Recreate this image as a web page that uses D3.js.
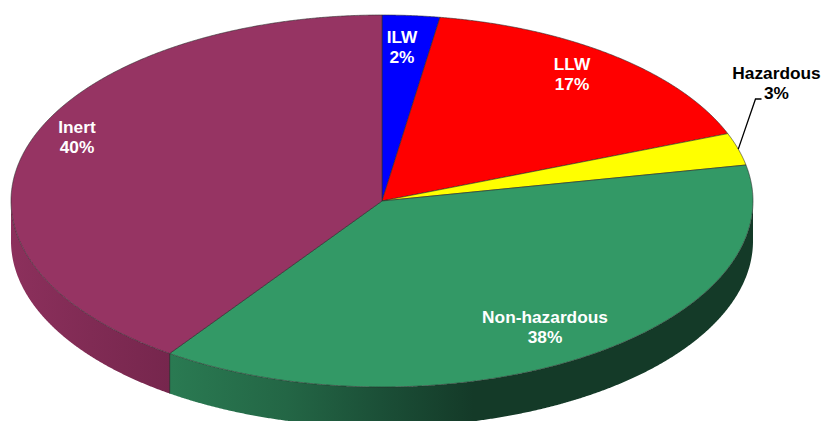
<!DOCTYPE html>
<html>

<head>
	<title>Waste pie</title>
	<meta charset="utf-8">
	<script src="https://cdn.jsdelivr.net/npm/d3@7"></script>
</head>

<style>
	html, body {
		margin: 0;
		padding: 0;
		background: #fff;
		overflow: hidden;
	}
	svg {
		display: block;
	}
	text {
		font-family: "Liberation Sans", Arial, sans-serif;
		font-size: 17.3px;
		font-weight: bold;
		text-anchor: middle;
	}
</style>

<body>
	<svg width="823" height="421"></svg>

	<script>
		var categories = ['ILW', 'LLW', 'Hazardous', 'Non-hazardous', 'Inert'];
		var shares = [2.5, 16.6, 2.8, 37.8, 40.3];
		var shareLabels = ['2%', '17%', '3%', '38%', '40%'];
		var colors = ['#0000ff', '#ff0000', '#ffff00', '#339966', '#963463'];
		var textColors = ['#fff', '#fff', '#000', '#fff', '#fff'];

		// where the two text lines sit, centre x and first baseline
		var labelX = [402, 572, 776.5, 545, 77];
		var labelY = [43, 70, 79, 323, 133];

		var depth = 40;
		var svg = d3.select('svg');

		// unit circle -> tilted ellipse
		var x = d3.scaleLinear().domain([-1, 1]).range([11, 753]);
		var y = d3.scaleLinear().domain([-1, 1]).range([15, 387]);

		var pie = d3.pie().sort(null).value(function(d) {
			return d;
		});
		var slices = pie(shares);

		function rim(a0, a1) {
			var n = Math.max(2, Math.ceil((a1 - a0) / 0.004));
			return d3.range(n + 1).map(function(i) {
				var a = a0 + (a1 - a0) * i / n;
				return [x(Math.sin(a)), y(-Math.cos(a))];
			});
		}

		var line = d3.line();
		var defs = svg.append('defs');

		function gradient(id, x1, x2, stops) {
			var g = defs.append('linearGradient')
				.attr('id', id)
				.attr('gradientUnits', 'userSpaceOnUse')
				.attr('x1', x1).attr('x2', x2)
				.attr('y1', 0).attr('y2', 0);
			stops.forEach(function(s) {
				g.append('stop').attr('offset', s[0]).attr('stop-color', s[1]);
			});
		}

		gradient('wallGreen', 171, 753, [
			[0, '#2a7a52'],
			[0.2, '#236645'],
			[0.36, '#1b4f37'],
			[0.52, '#143a28'],
			[1, '#143a28']
		]);
		gradient('wallInert', 11, 171, [
			[0, '#8c305c'],
			[0.5, '#802b54'],
			[1, '#76264d']
		]);
		var wallFill = {
			3: 'url(#wallGreen)',
			4: 'url(#wallInert)'
		};

		// side wall, only the front half of the disc shows
		svg.append('g')
			.selectAll('path')
			.data(slices.filter(function(d) {
				return d.endAngle > Math.PI / 2 && d.startAngle < 3 * Math.PI / 2;
			}))
			.enter()
			.append('path')
			.attr('d', function(d) {
				var top = rim(Math.max(d.startAngle, Math.PI / 2), Math.min(d.endAngle, 3 * Math.PI / 2));
				var bottom = top.map(function(p) {
					return [p[0], p[1] + depth];
				}).reverse();
				return line(top.concat(bottom)) + 'Z';
			})
			.attr('fill', function(d) {
				return wallFill[d.index];
			})
			.attr('stroke', 'none');

		// divider on the wall between the two front slices
		var split = slices[3].endAngle;
		svg.append('line')
			.attr('x1', x(Math.sin(split)))
			.attr('x2', x(Math.sin(split)))
			.attr('y1', y(-Math.cos(split)))
			.attr('y2', y(-Math.cos(split)) + depth)
			.attr('stroke', '#2a1a22')
			.attr('stroke-width', 0.8);

		// top face
		svg.append('g')
			.selectAll('path')
			.data(slices)
			.enter()
			.append('path')
			.attr('d', function(d) {
				return line([[x(0), y(0)]].concat(rim(d.startAngle, d.endAngle))) + 'Z';
			})
			.attr('fill', function(d, i) {
				return colors[i];
			})
			.attr('stroke', '#2b2b2b')
			.attr('stroke-width', 0.6)
			.attr('stroke-linejoin', 'round');

		// leader for the Hazardous label
		var hazMid = (slices[2].startAngle + slices[2].endAngle) / 2;
		svg.append('path')
			.attr('d', line([
				[x(Math.sin(hazMid)), y(-Math.cos(hazMid))],
				[labelX[2] - 21, labelY[2] + 20],
				[labelX[2] - 15, labelY[2] + 20]
			]))
			.attr('fill', 'none')
			.attr('stroke', '#000')
			.attr('stroke-width', 1.3);

		var labels = svg.append('g')
			.selectAll('text')
			.data(categories)
			.enter()
			.append('text')
			.attr('fill', function(d, i) {
				return textColors[i];
			});

		labels.append('tspan')
			.attr('x', function(d, i) {
				return labelX[i];
			})
			.attr('y', function(d, i) {
				return labelY[i];
			})
			.text(function(d) {
				return d;
			});

		labels.append('tspan')
			.attr('x', function(d, i) {
				return labelX[i];
			})
			.attr('y', function(d, i) {
				return labelY[i] + 20;
			})
			.text(function(d, i) {
				return shareLabels[i];
			});
	</script>
</body>

</html>
